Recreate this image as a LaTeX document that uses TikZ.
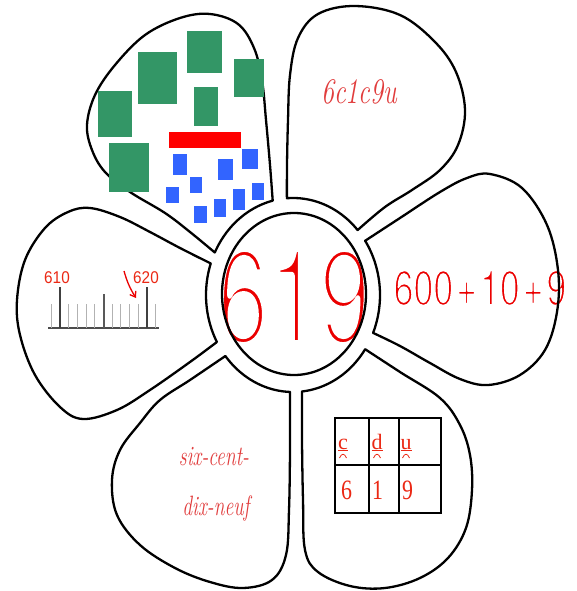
\documentclass[tikz,border=0pt]{standalone}
\usepackage{fontspec}
\usetikzlibrary{arrows.meta}
\newfontfamily\arialf{Liberation Sans}
\newfontfamily\herosf{TeX Gyre Heros}
\newfontfamily\timesf{Liberation Serif}
\makeatletter
\newcommand{\thinon}[1]{\pgfsys@invoke{q 2 Tr 1 1 1 RG 1 j #1 w}}
\newcommand{\thinoff}{\pgfsys@invoke{Q}}
\makeatother
\definecolor{numred}{RGB}{235,0,0}
\definecolor{cursred}{RGB}{225,60,60}
\definecolor{tabred}{RGB}{235,40,20}
\definecolor{gblock}{RGB}{51,150,102}
\definecolor{bblock}{RGB}{50,100,255}
\definecolor{rblock}{RGB}{255,0,0}
\tikzset{
  petal/.style={draw=black, line width=2.3pt, line join=round},
  ring/.style={draw=black, line width=2.3pt},
  bigtxt/.style={text=numred, inner sep=0pt, transform shape},
  curs/.style={text=cursred, inner sep=0pt, transform shape, font=\itshape},
  tabtxt/.style={text=tabred, inner sep=0pt, transform shape},
  hund/.style={fill=gblock},
  unitb/.style={fill=bblock},
  tick/.style={draw=gray!60, line width=1pt},
  bigtick/.style={draw=black!75, line width=1.6pt},
}
\begin{document}
\begin{tikzpicture}[x=1pt,y=-1pt]
\useasboundingbox (0,0) rectangle (576,591);
\fill[white] (0,0) rectangle (576,591);

% big texts first (outlines drawn over them)
\node[bigtxt, font=\herosf\fontsize{135}{135}\selectfont, xscale=0.68] (n619) at (294,297) {\thinon{7.5}619\thinoff};
\node[bigtxt, font=\herosf\fontsize{49}{49}\selectfont, xscale=0.73] (sum) at (480,288) {\thinon{1.8}600\kern4pt+\kern4pt10\kern4pt+\kern4pt9\thinoff};

% petal 2 (top right)
\draw[petal] plot[domain=-94:-42, samples=30, variable=\t] ({293+87*cos(\t)},{295+97*sin(\t)})
  -- plot[smooth, tension=0.6] coordinates {(357.6,230.1) (385,207) (412,190) (440,170) (458,145) (465,110) (456,72) (435,42) (400,15) (355,6) (318,14) (298,38) (290,75) (288,120) (287,165) (286.9,198.2)} -- cycle;
% petal 1 (top left)
\draw[petal] plot[domain=-154:-103.5, samples=30, variable=\t] ({293+87*cos(\t)},{295+97*sin(\t)})
  -- plot[smooth, tension=0.6] coordinates {(272.7,200.7) (270,165) (266,120) (262,80) (254,48) (238,24) (210,14) (180,18) (145,35) (115,65) (95,95) (87,125) (92,150) (105,172) (130,192) (165,213) (190,232) (214.8,252.5)} -- cycle;
% petal 6 (left)
\draw[petal] plot[domain=151:199, samples=30, variable=\t] ({293+87*cos(\t)},{295+97*sin(\t)})
  -- plot[smooth, tension=0.6] coordinates {(210.7,263.4) (180,248) (150,232) (120,217) (90,208) (68,212) (45,228) (25,260) (17,300) (20,335) (35,375) (60,407) (83,419) (117,410) (150,390) (190,362) (216.9,342)} -- cycle;
% petal 5 (bottom left)
\draw[petal] plot[domain=92:141, samples=30, variable=\t] ({293+87*cos(\t)},{295+97*sin(\t)})
  -- plot[smooth, tension=0.6] coordinates {(225.4,356) (190,380) (160,400) (140,423) (120,450) (112,480) (117,515) (140,545) (175,568) (210,582) (243,588) (272,580) (286,555) (289,510) (290,450) (290,391.9)} -- cycle;
% petal 4 (bottom right)
\draw[petal] plot[domain=34:84, samples=30, variable=\t] ({293+87*cos(\t)},{295+97*sin(\t)})
  -- plot[smooth, tension=0.6] coordinates {(302.1,391.5) (302,440) (303,500) (305,550) (318,572) (350,586) (385,588) (420,578) (448,558) (466,528) (472,490) (470,455) (460,425) (440,398) (400,372) (365.1,349.2)} -- cycle;
% petal 3 (right)
\draw[petal] plot[domain=-34:23, samples=30, variable=\t] ({293+87*cos(\t)},{295+97*sin(\t)})
  -- plot[smooth, tension=0.6] coordinates {(373.1,332.9) (400,346) (430,363) (460,379) (488,385) (520,375) (545,350) (557,312) (558,270) (547,225) (522,188) (490,174) (467,178) (440,192) (400,218) (365.1,240.8)} -- cycle;

% centre ring
\draw[ring] (294,294) ellipse [x radius=72, y radius=81];

% petal 1: blocks
\fill[hund] (98,91) rectangle (132,137);
\fill[hund] (138,52) rectangle (177,104);
\fill[hund] (187,31) rectangle (222,73);
\fill[hund] (234,59) rectangle (264,97);
\fill[hund] (194,87) rectangle (218,126);
\fill[hund] (109,143) rectangle (149,192);
\fill[rblock] (169,132) rectangle (241,148);
\fill[unitb] (173,154) rectangle (187,175);
\fill[unitb] (218,159) rectangle (233,180);
\fill[unitb] (242,149) rectangle (258,169);
\fill[unitb] (190,177) rectangle (202,193);
\fill[unitb] (166,187) rectangle (179,203);
\fill[unitb] (252,183) rectangle (264,200);
\fill[unitb] (233,189) rectangle (245,210);
\fill[unitb] (214,199) rectangle (226,217);
\fill[unitb] (194,206) rectangle (207,223);

% petal 2
\node[curs, font=\itshape\fontsize{36}{36}\selectfont, xscale=0.72] (dec) at (359,92) {6c1c9u};

% petal 6: number line
\draw[draw=black!70, line width=1.3pt] (48,328) -- (159,328);
\foreach \i in {0,2,3,4,5,7,8,9,10,12} { \draw[tick] ({51.3+8.7*\i},304) -- ({51.3+8.7*\i},328); }
\draw[bigtick] (60,287) -- (60,328);
\draw[bigtick] (147,287) -- (147,328);
\draw[draw=black!65, line width=1.3pt] (104,294) -- (104,328);
\node[tabtxt, font=\arialf\fontsize{17}{17}\selectfont, xscale=0.9] (l610) at (57,278) {610};
\node[tabtxt, font=\arialf\fontsize{17}{17}\selectfont, xscale=0.9] (l620) at (146,278) {620};
\coordinate (arS) at (124,271);
\coordinate (arE) at (136,298);
\draw[numred, line width=1.3pt, -{Straight Barb[length=5pt,width=7pt]}] (arS) to[bend right=8] (arE);

% petal 5: words
\node[curs, font=\itshape\fontsize{28}{28}\selectfont, xscale=0.7, anchor=base] (w1) at (214,465) {six-cent-};
\node[curs, font=\itshape\fontsize{28}{28}\selectfont, xscale=0.7, anchor=base] (w2) at (216,515) {dix-neuf};

% petal 4: table
\draw[black, line width=1.2pt] (335,418) rectangle (441,513);
\draw[black, line width=1.2pt] (369,418) -- (369,513);
\draw[black, line width=1.2pt] (399,418) -- (399,513);
\draw[black, line width=1.2pt] (335,465) -- (441,465);
\node[tabtxt, font=\timesf\fontsize{22}{22}\selectfont, anchor=base] (tc) at (343,449) {\underline{c}};
\node[tabtxt, font=\timesf\fontsize{22}{22}\selectfont, anchor=base] (td) at (377,449) {\underline{d}};
\node[tabtxt, font=\timesf\fontsize{22}{22}\selectfont, anchor=base] (tu) at (406,449) {\underline{u}};
\foreach \x in {343,377,406} { \draw[tabred, line width=0.8pt] (\x-3.5,458) .. controls (\x-1.5,453) and (\x+1.5,453) .. (\x+3.5,458); }
\node[tabtxt, font=\timesf\fontsize{28}{28}\selectfont, xscale=0.78] (t6) at (346.5,490) {6};
\node[tabtxt, font=\timesf\fontsize{28}{28}\selectfont, xscale=0.78] (t1) at (377.5,490) {1};
\node[tabtxt, font=\timesf\fontsize{28}{28}\selectfont, xscale=0.78] (t9) at (407.5,490) {9};
\end{tikzpicture}
\end{document}
